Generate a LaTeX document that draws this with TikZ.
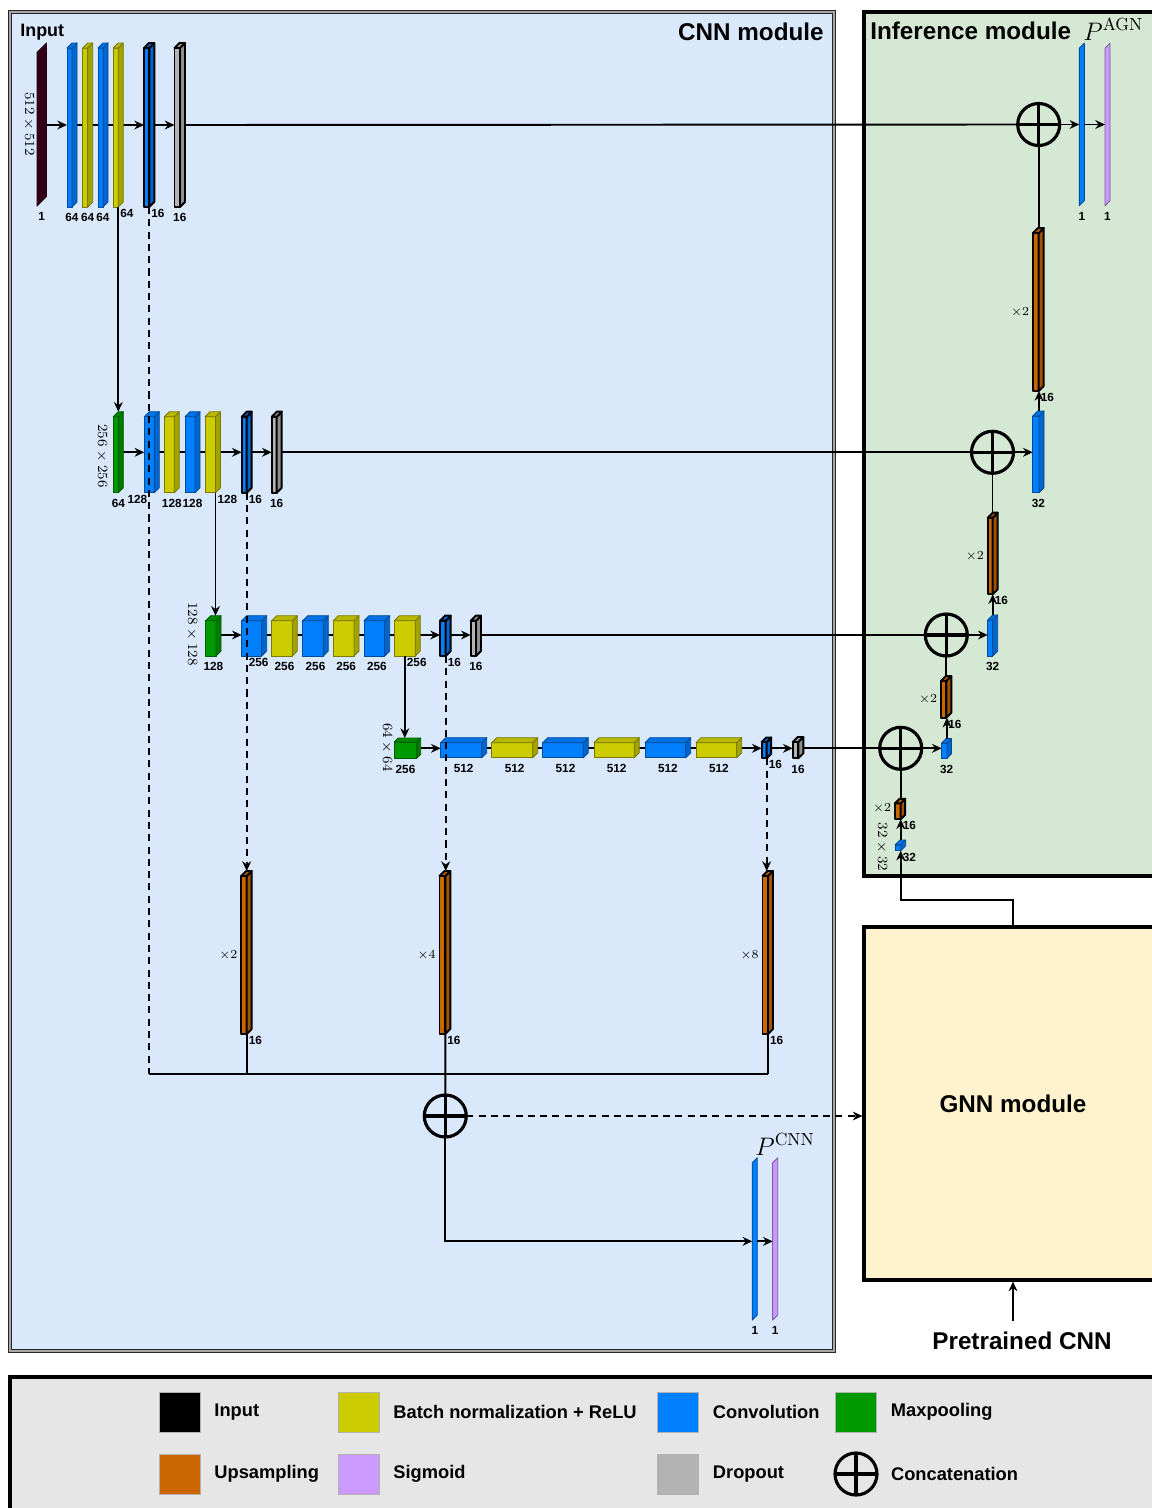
\documentclass[tikz,border=0pt]{standalone}
\usepackage{amsmath,amssymb}
\usepackage[no-math]{fontspec}
\setsansfont{Liberation Sans}
\usepackage{xcolor}
\usepackage{tikz}
\usetikzlibrary{arrows.meta,positioning}

\definecolor{convc}{RGB}{0,127,255}
\definecolor{bnc}{RGB}{204,204,0}
\definecolor{poolc}{RGB}{0,153,0}
\definecolor{upc}{RGB}{204,102,0}
\definecolor{sigc}{RGB}{204,153,255}
\definecolor{dropc}{RGB}{179,179,179}
\definecolor{inpc}{RGB}{51,0,25}
\definecolor{cnnbg}{RGB}{218,232,252}
\definecolor{infbg}{RGB}{213,232,212}
\definecolor{gnnbg}{RGB}{255,242,204}
\definecolor{legbg}{RGB}{230,230,230}

\newcommand{\pxl}{0.02cm}
\pgfdeclarelayer{back}
\pgfdeclarelayer{bg}
\pgfsetlayers{back,bg,main}

\tikzset{
	lyr/.style={inner sep=0pt, outer sep=0pt, line width=0.5pt, line join=round},
	heavy/.style={draw=black, line width=1.1pt},
	ln/.style={line width=1.1pt},
	arr/.style={ln, -{Stealth[length=5.5pt, width=5pt]}},
	dsh/.style={ln, dash pattern=on 4pt off 3pt},
	cat/.style={circle, draw, line width=1.8pt, minimum size=42*\pxl, inner sep=0pt, outer sep=0pt,
		path picture={\draw[line width=1.8pt] (path picture bounding box.north) -- (path picture bounding box.south)
			(path picture bounding box.west) -- (path picture bounding box.east);}},
	lbl/.style={font=\sffamily\bfseries\fontsize{6.7}{8}\selectfont, inner sep=1pt},
	dimlbl/.style={font=\fontsize{8.4}{10}\selectfont, rotate=-90, inner sep=0pt},
	uplbl/.style={font=\fontsize{7.5}{9}\selectfont, inner sep=1pt},
	plbl/.style={font=\fontsize{14}{16}\selectfont, inner sep=0pt},
	ttl/.style={font=\sffamily\bfseries\fontsize{13.8}{16}\selectfont, inner sep=0pt},
	inttl/.style={font=\sffamily\bfseries\fontsize{10.2}{12}\selectfont, inner sep=0pt},
	lgd/.style={font=\sffamily\bfseries\fontsize{10.4}{12}\selectfont},
	swatch/.style={draw=black!30, line width=0.4pt, minimum width=41*\pxl, minimum height=40*\pxl, inner sep=0pt},
	cnnbox/.style={draw=black!85, double=black!35, double distance=0.9pt, line width=0.8pt, fill=cnnbg},
	modbox/.style={draw=black, line width=1.8pt}
}

% #1 extra style, #2 name, #3 colour, #4/#5 front left/right, #6/#7 front top/bottom, #8 depth
\newcommand{\layer}[8][]{%
	\node[lyr, fill=#3, draw=#3!60!black, #1, minimum width=(#5-#4)*\pxl, minimum height=(#7-#6)*\pxl] (#2) at ({(#4+#5)/2},{(#6+#7)/2}) {};
	\filldraw[lyr, fill=#3!80!black, draw=#3!60!black, #1] (#2.north east) -- ++(#8,-#8) -- ++(0,#7-#6) -- (#2.south east) -- cycle;
	\filldraw[lyr, fill=#3!90!black, draw=#3!60!black, #1] (#2.north west) -- ++(#8,-#8) -- ++(#5-#4,0) -- (#2.north east) -- cycle;
	\path (#2.east) ++(#8,0) coordinate (#2-b);
	\path (#2.north east) ++(0,-#8) coordinate (#2-t);
	\path (#2.south) ++(#8/2,0) coordinate (#2-l);
}
% #1 name, #2 colour, #3 x, #4/#5 top/bottom, #6 depth
\newcommand{\flatlyr}[6]{%
	\node[lyr, draw=#2!60!black, minimum width=0pt, minimum height=(#5-#4)*\pxl] (#1) at (#3,{(#4+#5)/2}) {};
	\filldraw[lyr, fill=#2, draw=#2!60!black] (#1.north) -- ++(#6,-#6) -- ++(0,#5-#4) -- (#1.south) -- cycle;
	\path (#1.east) ++(#6,0) coordinate (#1-b);
	\path (#1.south) ++(#6/2,0) coordinate (#1-l);
}

\begin{document}
\begin{tikzpicture}[x=0.02cm, y=-0.02cm]
	\useasboundingbox (0,0) rectangle (1152,1508);

	\begin{pgfonlayer}{back}
		\draw[cnnbox] (10,12) rectangle (834,1351);
		\draw[modbox, fill=infbg] (864,12) rectangle (1175,876);
		\draw[modbox, fill=legbg] (10,1377) rectangle (1175,1525);
	\end{pgfonlayer}

	\node[ttl, anchor=base east] (cnnttl) at (824,40) {CNN module};
	\node[inttl, anchor=base west] (inttl) at (20,36.5) {Input};
	\node[ttl, anchor=base west] (infttl) at (870,39) {Inference module};
	\node[plbl, anchor=base west] (pagn) at (1083,40) {$P^{\mathrm{AGN}}$};

	% row 1
	\coordinate (r1) at (0,125);
	\flatlyr{in1}{inpc}{37}{52.5}{206}{9.5}
	\layer{c11}{convc}{67}{72}{48}{207}{5}
	\layer{b11}{bnc}{82.7}{87.7}{48}{207}{5}
	\layer{c12}{convc}{98}{103}{48}{207}{5}
	\layer{b12}{bnc}{113.3}{118.3}{48}{207}{5}
	\layer[heavy]{c13}{convc}{144}{149.3}{48}{207}{5}
	\layer[heavy]{d1}{dropc}{174.5}{180}{48}{207}{5}
	\node[dimlbl] (dim1) at (29,124) {$512\times512$};

	% row 2
	\coordinate (r2) at (0,452.3);
	\layer{m2}{poolc}{113.3}{118.3}{416.7}{492.7}{5}
	\layer{c21}{convc}{144.3}{154.3}{416.7}{492.7}{5}
	\layer{b21}{bnc}{164.3}{174.3}{416.7}{492.7}{5}
	\layer{c22}{convc}{185}{195}{416.7}{492.7}{5}
	\layer{b22}{bnc}{205}{215.5}{416.7}{492.7}{5}
	\layer[heavy]{c23}{convc}{241.7}{246.7}{416.7}{492.7}{5}
	\layer[heavy]{d2}{dropc}{271.7}{276.7}{416.7}{492.7}{5}
	\node[dimlbl] (dim2) at (102,456) {$256\times256$};

	% row 3
	\coordinate (r3) at (0,635);
	\layer{m3}{poolc}{205.7}{216}{620.7}{656}{5}
	\layer{c31}{convc}{241.7}{261.7}{620.7}{656}{5}
	\layer{b31}{bnc}{271.7}{292.3}{620.7}{656}{5}
	\layer{c32}{convc}{302.7}{323.3}{620.7}{656}{5}
	\layer{b32}{bnc}{333.3}{354}{620.7}{656}{5}
	\layer{c33}{convc}{364}{384.7}{620.7}{656}{5}
	\layer{b33}{bnc}{394.3}{415.3}{620.7}{656}{5}
	\layer[heavy]{c34}{convc}{440}{445.7}{620.7}{656}{5}
	\layer[heavy]{d3}{dropc}{470.7}{476}{620.7}{656}{5}
	\node[dimlbl] (dim3) at (192,634) {$128\times128$};

	% row 4
	\coordinate (r4) at (0,748.3);
	\layer{m4}{poolc}{394.3}{416.7}{742}{758.3}{4}
	\layer{c41}{convc}{440.7}{481.7}{742.7}{757.7}{5}
	\layer{b41}{bnc}{491.7}{532.7}{742.7}{757.7}{5}
	\layer{c42}{convc}{542.7}{583.3}{742.7}{757.7}{5}
	\layer{b42}{bnc}{594}{634.3}{742.7}{757.7}{5}
	\layer{c43}{convc}{645}{685.7}{742.7}{757.7}{5}
	\layer{b43}{bnc}{696}{736.7}{742.7}{757.7}{5}
	\layer[heavy]{c44}{convc}{761.7}{766.7}{742}{758.3}{4.5}
	\layer[heavy]{d4}{dropc}{792.7}{798.3}{742}{758.3}{5}
	\node[dimlbl] (dim4) at (387,747.5) {$64\times64$};

	% upsampling and outputs
	\coordinate (bus) at (0,1074.3);
	\layer[heavy]{u2}{upc}{241.3}{246.7}{876}{1034}{5}
	\layer[heavy]{u4}{upc}{439.5}{445.3}{876}{1034}{5}
	\layer[heavy]{u8}{upc}{762.5}{768}{876}{1034}{5}
	\node[uplbl, left=1pt] (xu2) at (u2.west) {$\times2$};
	\node[uplbl, left=1pt] (xu4) at (u4.west) {$\times4$};
	\node[uplbl, left=1pt] (xu8) at (u8.west) {$\times8$};
	\node[cat] (cat0) at (445.3,1116) {};
	\flatlyr{oc}{convc}{752.3}{1162.7}{1320}{5}
	\flatlyr{sc}{sigc}{772.7}{1162.7}{1320}{5}
	\node[plbl, anchor=base west] (pcnn) at (755,1155) {$P^{\mathrm{CNN}}$};

	% inference module
	\node[cat] (cat1) at (1038.7,124.5) {};
	\flatlyr{o1}{convc}{1079.3}{48.3}{205.7}{5}
	\flatlyr{s1}{sigc}{1105}{48.3}{205.7}{5}
	\layer[heavy]{up1}{upc}{1033}{1038.7}{233}{391}{5}
	\layer{f2}{convc}{1032.7}{1039}{416}{492.7}{5}
	\node[cat] (cat2) at (992.5,452.3) {};
	\layer[heavy]{up2}{upc}{987.7}{992.7}{517.7}{594.3}{5}
	\layer{f3}{convc}{987.7}{992.7}{620}{656}{5}
	\node[cat] (cat3) at (946.3,635) {};
	\layer[heavy]{up3}{upc}{941}{946.3}{681}{717.7}{5}
	\layer{f4}{convc}{941.7}{947}{743}{758.3}{4.5}
	\node[cat] (cat4) at (900.7,748.3) {};
	\layer[heavy]{up4}{upc}{895}{900.7}{803.3}{819.3}{4.5}
	\layer{f5}{convc}{895}{900.7}{845}{850.7}{5}
	\foreach \n in {up1,up2,up3}
		\node[uplbl, left=1pt] (x\n) at (\n.west) {$\times2$};
	\node[uplbl, left=1pt, yshift=2pt] (xup4) at (up4.west) {$\times2$};
	\node[dimlbl] (dim5) at (882,847) {$32\times32$};

	\node[modbox, fill=gnnbg, minimum width=298*\pxl, minimum height=353*\pxl, ttl] (gnn) at (1013,1103.5) {GNN module};
	\node[ttl] (pretr) at (1022,1341) {Pretrained CNN};

	% labels
	\foreach \n/\t in {in1/1, c11/64, b11/64, c12/64, d1/16, m2/64, b21/128, c22/128, d2/16, m3/128, b31/256, c32/256, b32/256, c33/256, d3/16,
		c41/512, b41/512, c42/512, b42/512, c43/512, b43/512, d4/16, oc/1, sc/1, o1/1, s1/1, f2/32, f3/32, f4/32}
		\node[lbl, below=2.5pt] (l\n) at (\n-l) {\t};
	\node[lbl, below=2.5pt] (lm4) at (m4.south) {256};
	\foreach \n/\t in {b12/64, c13/16, b22/128, c23/16, c34/16, c44/16, u2/16, u4/16, u8/16, up1/16, up2/16, up3/16, up4/16, f5/32}
		\node[lbl, anchor=north west] (l\n) at (\n.south east) {\t};
	\node[lbl, anchor=north east] (lc21) at (c21.south -| c13.south east) {128};
	\node[lbl, anchor=north west] (lc31) at (c31.south -| c23.south east) {256};
	\node[lbl, anchor=north west] (lb33) at (b33.south) {256};

	% connections
	\begin{pgfonlayer}{bg}
		\draw[arr] (in1-b |- r1) -- (c11.west |- r1);
		\draw[arr] (c11.west |- r1) -- (c13.west |- r1);
		\draw[arr] (c13-b |- r1) -- (d1.west |- r1);
		\draw[ln] (d1-b |- r1) -- (cat1.west);
		\draw[arr] (m2-b |- r2) -- (c21.west |- r2);
		\draw[arr] (c21.west |- r2) -- (c23.west |- r2);
		\draw[arr] (c23-b |- r2) -- (d2.west |- r2);
		\draw[ln] (d2-b |- r2) -- (cat2.west);
		\draw[arr] (m3-b |- r3) -- (c31.west |- r3);
		\draw[arr] (c31.west |- r3) -- (c34.west |- r3);
		\draw[arr] (c34-b |- r3) -- (d3.west |- r3);
		\draw[ln] (d3-b |- r3) -- (cat3.west);
		\draw[arr] (m4-b |- r4) -- (c41.west |- r4);
		\draw[arr] (c41.west |- r4) -- (c44.west |- r4);
		\draw[arr] (c44-b |- r4) -- (d4.west |- r4);
		\draw[ln] (d4-b |- r4) -- (cat4.west);
	\end{pgfonlayer}
	\draw[arr] (b12.south east) -- (b12.south east |- m2-t);
	\draw[arr] (b22.south east) -- (b22.south east |- m3-t);
	\draw[arr] (b33.south) -- (b33.south |- m4-t);

	\draw[dsh] (c13.south east) -- (c13.south east |- bus);
	\draw[dsh, arr] (c23.south east) -- (c23.south east |- u2-t);
	\draw[dsh, arr] (c34.south east) -- (c34.south east |- u4-t);
	\draw[dsh, arr] (c44.south east) -- (c44.south east |- u8-t);
	\draw[ln] (u2.south east) -- (u2.south east |- bus);
	\draw[ln] (u8.south east) -- (u8.south east |- bus);
	\draw[ln] (c13.south east |- bus) -- (u8.south east |- bus);
	\draw[ln] (u4.south east) -- (cat0.north);
	\draw[dsh, arr] (cat0.east) -- (gnn.west |- cat0);
	\draw[arr] (cat0.south) |- (oc.west);
	\draw[arr] (oc-b) -- (sc.west |- oc-b);

	\draw[arr] (cat1.east) -- (o1 |- cat1);
	\draw[arr] (o1-b |- cat1) -- (s1 |- cat1);
	\draw[ln] (cat1.south) -- (cat1.south |- up1-t);
	\draw[arr] (f2-t) -- (f2-t |- up1.south);
	\draw[arr] (cat2.east) -- (f2.west |- cat2);
	\draw[ln] (cat2.south) -- (cat2.south |- up2-t);
	\draw[arr] (f3-t) -- (f3-t |- up2.south);
	\draw[arr] (cat3.east) -- (f3.west |- cat3);
	\draw[ln] (cat3.south) -- (cat3.south |- up3-t);
	\draw[arr] (f4-t) -- (f4-t |- up3.south);
	\draw[arr] (cat4.east) -- (f4.west |- cat4);
	\draw[ln] (cat4.south) -- (cat4.south |- up4-t);
	\draw[arr] (f5-t) -- (f5-t |- up4.south);
	\draw[arr] (gnn.north) -- ++(0,-25) -| (f5.south east);
	\path (pretr.north -| gnn.south) ++(0,-11) coordinate (pretrin);
	\draw[arr] (pretrin) -- (gnn.south);

	% legend
	\node[swatch, fill=black] (swin) at (179.5,1412) {};
	\node[swatch, fill=bnc] (swbn) at (358.5,1412) {};
	\node[swatch, fill=convc] (swcv) at (678,1412) {};
	\node[swatch, fill=poolc] (swmp) at (856,1412) {};
	\node[swatch, fill=upc] (swup) at (179.5,1474) {};
	\node[swatch, fill=sigc] (swsg) at (358.5,1474) {};
	\node[swatch, fill=dropc] (swdp) at (678,1474) {};
	\node[cat] (swcat) at (856,1474) {};
	\node[lgd, right=4.5pt of swin] (tin) {Input};
	\node[lgd, right=4.5pt of swbn] (tbn) {Batch normalization + ReLU};
	\node[lgd, right=4.5pt of swcv] (tcv) {Convolution};
	\node[lgd, right=4.5pt of swmp] (tmp) {Maxpooling};
	\node[lgd, right=4.5pt of swup] (tup) {Upsampling};
	\node[lgd, right=4.5pt of swsg] (tsg) {Sigmoid};
	\node[lgd, right=4.5pt of swdp] (tdp) {Dropout};
	\node[lgd, right=4.5pt of swcat] (tcat) {Concatenation};
\end{tikzpicture}
\end{document}
